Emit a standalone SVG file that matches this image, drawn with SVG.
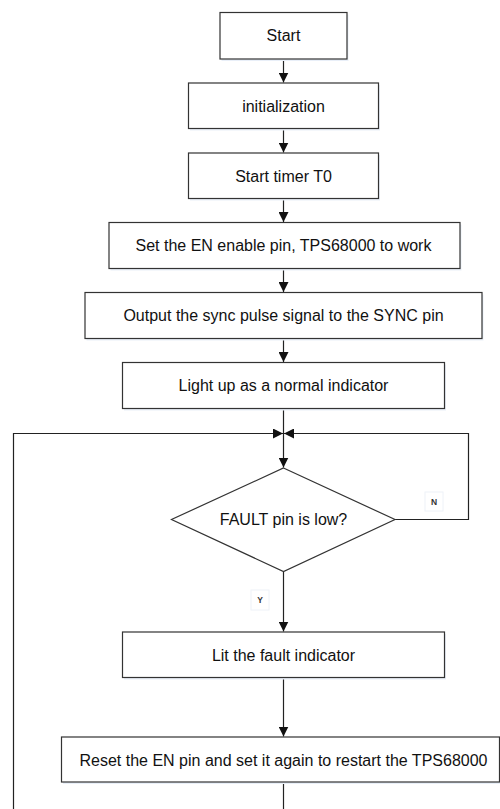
<svg xmlns="http://www.w3.org/2000/svg" width="500" height="809" viewBox="0 0 500 809">
<style>
.box{fill:#fff;stroke:#333;stroke-width:1.2}
.sh{fill:#e9eff8}
.t{font-family:"Liberation Sans",Arial,sans-serif;font-size:16px;fill:#111;text-anchor:middle;dominant-baseline:central}
.c{fill:none;stroke:#222;stroke-width:1.2}
.lb{fill:#fff;stroke:#eef2f8;stroke-width:1}
.lt{font-family:"Liberation Sans",Arial,sans-serif;font-size:8.5px;font-weight:bold;fill:#333;text-anchor:middle;dominant-baseline:central}
</style>
<defs>
<marker id="ah" viewBox="0 0 10 10" refX="10" refY="5" markerWidth="10" markerHeight="10" markerUnits="userSpaceOnUse" orient="auto">
<path d="M0,0 L10,5 L0,10 z" fill="#111"/>
</marker>
</defs>
<rect width="500" height="809" fill="#fff"/>
<g id="connectors">
<line class="c" x1="283.5" y1="59" x2="283.5" y2="82.5" marker-end="url(#ah)"/>
<line class="c" x1="283.5" y1="128.5" x2="283.5" y2="152.5" marker-end="url(#ah)"/>
<line class="c" x1="283.5" y1="198.5" x2="283.5" y2="222" marker-end="url(#ah)"/>
<line class="c" x1="283.5" y1="268.5" x2="283.5" y2="292" marker-end="url(#ah)"/>
<line class="c" x1="283.5" y1="338.5" x2="283.5" y2="362" marker-end="url(#ah)"/>
<line class="c" x1="283.5" y1="408.5" x2="283.5" y2="467.5" marker-end="url(#ah)"/>
<polyline class="c" points="395,519.5 468.5,519.5 468.5,433.5 284,433.5" marker-end="url(#ah)"/>
<polyline class="c" points="13.5,809 13.5,433.5 283,433.5" marker-end="url(#ah)"/>
<line class="c" x1="283.5" y1="571.5" x2="283.5" y2="631.5" marker-end="url(#ah)"/>
<line class="c" x1="283.5" y1="677.5" x2="283.5" y2="736.5" marker-end="url(#ah)"/>
<line class="c" x1="283.5" y1="782" x2="283.5" y2="809"/>
</g>
<g id="start">
<rect class="sh" x="221.5" y="14.5" width="127" height="46.5"/>
<rect class="box" x="220" y="12.5" width="127" height="46.5"/>
<text class="t" x="283.5" y="35.5">Start</text>
</g>
<g id="init">
<rect class="sh" x="190" y="85" width="190" height="45.5"/>
<rect class="box" x="188.5" y="83" width="190" height="45.5"/>
<text class="t" x="283.5" y="106">initialization</text>
</g>
<g id="timer">
<rect class="sh" x="190" y="155" width="190" height="45.5"/>
<rect class="box" x="188.5" y="153" width="190" height="45.5"/>
<text class="t" x="283.5" y="176">Start timer T0</text>
</g>
<g id="setEN">
<rect class="sh" x="110.5" y="224.5" width="351" height="46"/>
<rect class="box" x="109" y="222.5" width="351" height="46"/>
<text class="t" x="283.5" y="245.5">Set the EN enable pin, TPS68000 to work</text>
</g>
<g id="sync">
<rect class="sh" x="86.5" y="294.5" width="397" height="46"/>
<rect class="box" x="85" y="292.5" width="397" height="46"/>
<text class="t" x="283.5" y="315.5">Output the sync pulse signal to the SYNC pin</text>
</g>
<g id="normal">
<rect class="sh" x="124" y="364.5" width="322" height="46"/>
<rect class="box" x="122.5" y="362.5" width="322" height="46"/>
<text class="t" x="283.5" y="385.5">Light up as a normal indicator</text>
</g>
<g id="fault">
<polygon class="box" points="283.5,468 395,519.5 283.5,571.5 171.5,519.5"/>
<text class="t" x="283.5" y="519.5">FAULT pin is low?</text>
</g>
<g id="labelN">
<rect class="lb" x="425" y="492" width="18" height="19"/>
<text class="lt" x="434" y="501.5">N</text>
</g>
<g id="labelY">
<rect class="lb" x="251" y="590" width="18" height="20"/>
<text class="lt" x="260" y="600">Y</text>
</g>
<g id="lit">
<rect class="sh" x="124" y="634" width="322" height="45.5"/>
<rect class="box" x="122.5" y="632" width="322" height="45.5"/>
<text class="t" x="283.5" y="655">Lit the fault indicator</text>
</g>
<g id="reset">
<rect class="sh" x="63" y="739" width="438" height="45"/>
<rect class="box" x="61.5" y="737" width="438" height="45"/>
<text class="t" x="283.5" y="760">Reset the EN pin and set it again to restart the TPS68000</text>
</g>
</svg>
